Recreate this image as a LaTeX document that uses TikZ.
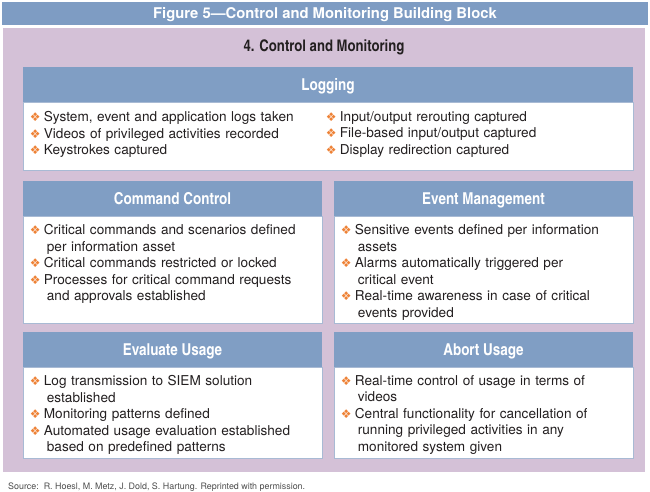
\documentclass[tikz,border=0pt]{standalone}
\usepackage{fontspec}
\setmainfont{TeX Gyre Heros}
\newfontfamily\cnfont{texgyreheroscn}[Extension=.otf,UprightFont=*-regular,BoldFont=*-bold]
\newfontfamily\symfont{DejaVu Sans}
\usetikzlibrary{positioning}

\definecolor{titleblue}{HTML}{7E9CC3}
\definecolor{hdrblue}{HTML}{809EC4}
\definecolor{panelpurple}{HTML}{D4C1D7}
\definecolor{bulorange}{HTML}{EE8236}
\definecolor{inktext}{HTML}{231F20}
\definecolor{edgeblue}{HTML}{A8BAD4}
\definecolor{srcgray}{HTML}{4D4D4D}

% orange bullet and list item with hanging indent
\newcommand{\bul}{{\fontsize{12}{12}\selectfont\symfont\color{bulorange}\char"2756}}
\newcommand{\itm}[1]{\hangindent=17pt\hangafter=1\noindent\makebox[14pt][l]{\bul}#1\par}

\tikzset{
  titlebar/.style={fill=titleblue,text=white,font=\bfseries\fontsize{14.8}{16}\selectfont,
    minimum width=646pt,minimum height=23pt,inner sep=0pt,text height=10.6pt,text depth=0pt},
  panel/.style={fill=panelpurple,minimum width=642pt,minimum height=444pt,inner sep=0pt},
  maintitle/.style={text=inktext,font=\cnfont\bfseries\fontsize{16}{18}\selectfont,inner sep=0pt,
    text height=11.5pt,text depth=0pt},
  hdr/.style={fill=hdrblue,text=white,font=\cnfont\bfseries\fontsize{16.4}{18}\selectfont,
    minimum height=35pt,inner sep=0pt,text height=11.8pt,text depth=0pt},
  bodybox/.style={fill=white,draw=edgeblue,line width=.6pt,inner sep=0pt},
  items/.style={anchor=north west,inner sep=0pt,text=inktext,text width=#1,align=left,
    font=\fontsize{13.6}{16.5}\selectfont},
  items/.default=292pt,
  source/.style={anchor=west,inner sep=0pt,text=srcgray,font=\fontsize{8.9}{10}\selectfont},
}

\begin{document}
\begin{tikzpicture}[x=1pt,y=-1pt]
  \useasboundingbox (0,0) rectangle (650,492);
  \node[titlebar] (title) at (325,13.5) {Figure 5\textemdash Control and Monitoring Building Block};
  \node[panel] (panel) at (324,250) {};
  \node[maintitle] (block) at (324,46) {4. Control and Monitoring};

  % logging
  \node[hdr,minimum width=610pt] (loghdr) at (328,84.5) {Logging};
  \node[bodybox,minimum width=610pt,minimum height=68pt,below=0pt of loghdr] (logbody) {};
  \node[items=292pt] (logleft) at ([shift={(7,9)}]logbody.north west)
    {\itm{System, event and application logs taken}
     \itm{Videos of privileged activities recorded}
     \itm{Keystrokes captured}};
  \node[items=292pt] (logright) at ([shift={(303,9)}]logbody.north west)
    {\itm{Input/output rerouting captured}
     \itm{File-based input/output captured}
     \itm{Display redirection captured}};

  % command control
  \node[hdr,minimum width=299pt] (cmdhdr) at (172.5,198.5) {Command Control};
  \node[bodybox,minimum width=299pt,minimum height=107pt,below=0pt of cmdhdr] (cmdbody) {};
  \node[items] (cmdtxt) at ([shift={(7,8)}]cmdbody.north west)
    {\itm{Critical commands and scenarios defined\newline per information asset}
     \itm{Critical commands restricted or locked}
     \itm{Processes for critical command requests\newline and approvals established}};

  % event management
  \node[hdr,minimum width=299pt] (evthdr) at (483.5,198.5) {Event Management};
  \node[bodybox,minimum width=299pt,minimum height=107pt,below=0pt of evthdr] (evtbody) {};
  \node[items] (evttxt) at ([shift={(7,8)}]evtbody.north west)
    {\itm{Sensitive events defined per information\newline assets}
     \itm{Alarms automatically triggered per\newline critical event}
     \itm{Real-time awareness in case of critical\newline events provided}};

  % evaluate usage
  \node[hdr,minimum width=299pt] (evalhdr) at (172.5,349.5) {Evaluate Usage};
  \node[bodybox,minimum width=299pt,minimum height=91pt,below=0pt of evalhdr] (evalbody) {};
  \node[items] (evaltxt) at ([shift={(7,8)}]evalbody.north west)
    {\itm{Log transmission to SIEM solution\newline established}
     \itm{Monitoring patterns defined}
     \itm{Automated usage evaluation established\newline based on predefined patterns}};

  % abort usage
  \node[hdr,minimum width=299pt] (aborthdr) at (483.5,349.5) {Abort Usage};
  \node[bodybox,minimum width=299pt,minimum height=91pt,below=0pt of aborthdr] (abortbody) {};
  \node[items] (aborttxt) at ([shift={(7,8)}]abortbody.north west)
    {\itm{Real-time control of usage in terms of\newline videos}
     \itm{Central functionality for cancellation of\newline running privileged activities in any\newline monitored system given}};

  \node[source] (src) at (8,487) {Source:\ \ R. Hoesl, M. Metz, J. Dold, S. Hartung. Reprinted with permission.};
\end{tikzpicture}
\end{document}
